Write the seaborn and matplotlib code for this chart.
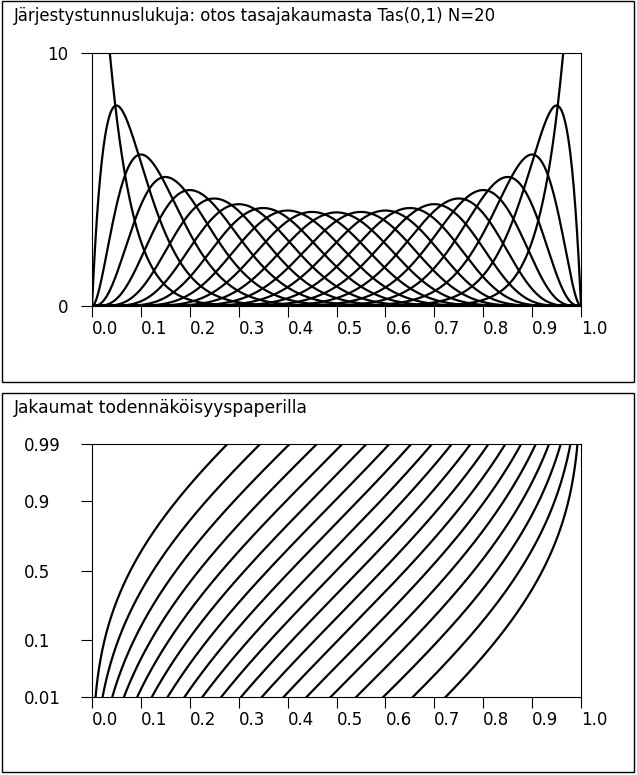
import numpy as np
import pandas as pd
import matplotlib
matplotlib.use("Agg")
import matplotlib.pyplot as plt
import seaborn as sns
from matplotlib.patches import Rectangle
from math import comb
from statistics import NormalDist

# ---- data ----
N = 20
ranks = list(range(0, N + 1))          # order-statistic curves in the density panel
prob_ranks = list(range(1, N))         # curves shown on the probability paper
x_ticks = [0.0, 0.1, 0.2, 0.3, 0.4, 0.5, 0.6, 0.7, 0.8, 0.9, 1.0]
x_tick_labels = ["0.0", "0.1", "0.2", "0.3", "0.4", "0.5", "0.6", "0.7", "0.8", "0.9", "1.0"]
pdf_yticks = [0, 10]
pdf_ylabels = ["0", "10"]
prob_ticks = [0.01, 0.1, 0.5, 0.9, 0.99]
prob_labels = ["0.01", "0.1", "0.5", "0.9", "0.99"]
title_top = "Järjestystunnuslukuja: otos tasajakaumasta Tas(0,1) N=20"
title_bottom = "Jakaumat todennäköisyyspaperilla"

grid = np.linspace(0, 1, 1201)
rows = []
for r in ranks:
    # Beta(r+1, N-r+1) density and distribution function
    pdf = (N + 1) * comb(N, r) * grid ** r * (1 - grid) ** (N - r)
    cdf = sum(comb(N + 1, j) * grid ** j * (1 - grid) ** (N + 1 - j) for j in range(r + 1, N + 2))
    rows.append(pd.DataFrame({"x": grid, "pdf": pdf, "cdf": cdf, "rank": r}))
df = pd.concat(rows, ignore_index=True)
df_prob = df[df["rank"].isin(prob_ranks)]

# ---- style ----
sns.set_style("ticks")
plt.rcParams["font.family"] = ["DejaVu Sans"]
plt.rcParams["text.color"] = "black"
plt.rcParams["axes.linewidth"] = 0.8
plt.rcParams["xtick.major.width"] = 0.8
plt.rcParams["ytick.major.width"] = 0.8
plt.rcParams["xtick.major.size"] = 8
plt.rcParams["ytick.major.size"] = 8
plt.rcParams["xtick.color"] = "black"
plt.rcParams["ytick.color"] = "black"
plt.rcParams["axes.edgecolor"] = "black"

W, H = 637, 775
fig = plt.figure(figsize=(W / 100, H / 100), dpi=100)
fs_tick = 12


def frac_rect(left, top, right, bottom):
    return [left / W, 1 - bottom / H, (right - left) / W, (bottom - top) / H]


# outer boxes
for (l, t, r, b) in [(2, 1, 634, 382), (2, 393, 634, 772)]:
    fig.add_artist(Rectangle((l / W, 1 - b / H), (r - l) / W, (b - t) / H,
                             transform=fig.transFigure, fill=False, ec="black", lw=1.0))

fig.text(14 / W, 1 - 16 / H, title_top, fontsize=11.9, va="center", ha="left", color="black")
fig.text(14 / W, 1 - 408 / H, title_bottom, fontsize=12.3, va="center", ha="left", color="black")

# ---- top: densities ----
ax1 = fig.add_axes(frac_rect(92, 53, 581, 306))
sns.lineplot(data=df, x="x", y="pdf", units="rank", estimator=None, color="black",
             lw=1.6, ax=ax1, legend=False)
ax1.set_xlim(0, 1)
ax1.set_ylim(0, 10)
ax1.set_xticks(x_ticks, x_tick_labels)
ax1.set_yticks(pdf_yticks, pdf_ylabels)
ax1.set_xlabel("")
ax1.set_ylabel("")
ax1.tick_params(axis="x", labelsize=fs_tick, pad=2, labelcolor="black")
ax1.tick_params(axis="y", labelsize=fs_tick, pad=9, labelcolor="black")
for lab in ax1.get_xticklabels():
    lab.set_horizontalalignment("left")
for s in ax1.spines.values():
    s.set_visible(True)

# ---- bottom: CDFs on probability paper ----
nd = NormalDist()
_ppf = np.vectorize(lambda p: nd.inv_cdf(min(max(p, 1e-12), 1 - 1e-12)), otypes=[float])
_cdf = np.vectorize(lambda z: nd.cdf(z), otypes=[float])


def fwd(p):
    return _ppf(np.asarray(p, dtype=float))


def inv(z):
    return _cdf(np.asarray(z, dtype=float))


ax2 = fig.add_axes(frac_rect(92, 444, 581, 697))
ax2.set_yscale("function", functions=(fwd, inv))
sns.lineplot(data=df_prob, x="x", y="cdf", units="rank", estimator=None, color="black",
             lw=1.6, ax=ax2, legend=False)
ax2.set_xlim(0, 1)
ax2.set_ylim(0.01, 0.99)
ax2.set_xticks(x_ticks, x_tick_labels)
ax2.set_yticks(prob_ticks, prob_labels)
ax2.minorticks_off()
ax2.set_xlabel("")
ax2.set_ylabel("")
ax2.tick_params(axis="x", labelsize=fs_tick, pad=2, labelcolor="black")
ax2.tick_params(axis="y", labelsize=fs_tick, pad=41, labelcolor="black")
for lab in ax2.get_xticklabels():
    lab.set_horizontalalignment("left")
for lab in ax2.get_yticklabels():
    lab.set_horizontalalignment("left")
for s in ax2.spines.values():
    s.set_visible(True)

fig.savefig("out.png", dpi=100)
